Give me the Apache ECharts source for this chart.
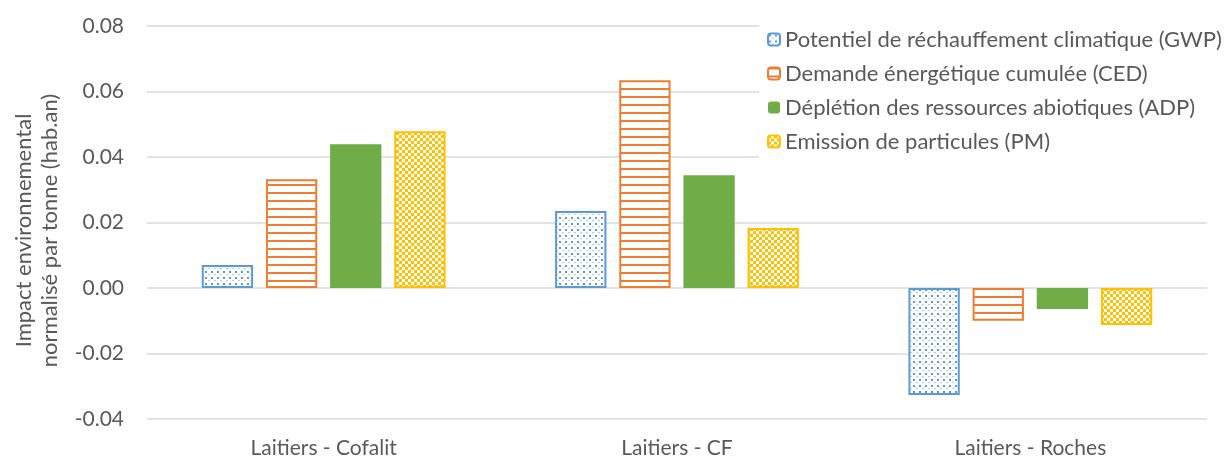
<!DOCTYPE html>
<html>
<head>
<meta charset="utf-8">
<script src="https://cdn.jsdelivr.net/npm/echarts@6/dist/echarts.min.js"></script>
<style>
  html, body { margin: 0; padding: 0; background: #fff; }
  #main { width: 1229px; height: 458px; }
</style>
</head>
<body>
<div id="main"></div>
<script>
const categories = ["Laitiers - Cofalit", "Laitiers - CF", "Laitiers - Roches"];
const seriesNames = [
  "Potentiel de réchauffement climatique (GWP)",
  "Demande énergétique cumulée (CED)",
  "Déplétion des ressources abiotiques (ADP)",
  "Emission de particules (PM)",
];
const gwp = [0.0070, 0.0235, -0.0327];
const ced = [0.0332, 0.0634, -0.0100];
const adp = [0.0439, 0.0344, -0.0064];
const pm = [0.0479, 0.0183, -0.0113];
const yTicks = [-0.04, -0.02, 0.0, 0.02, 0.04, 0.06, 0.08];

// petits motifs de remplissage (comme Excel)
function makeTile(w, h, draw) {
  const c = document.createElement("canvas");
  c.width = w;
  c.height = h;
  const ctx = c.getContext("2d");
  ctx.fillStyle = "#fff";
  ctx.fillRect(0, 0, w, h);
  draw(ctx);
  return c;
}
const dotTile = makeTile(6, 6, (ctx) => {
  ctx.fillStyle = "#5b9bd5";
  ctx.fillRect(1, 1, 2, 2);
  ctx.fillStyle = "rgba(91,155,213,0.5)";
  ctx.fillRect(4, 4, 2, 1);
});
const stripeTile = makeTile(4, 8, (ctx) => {
  ctx.fillStyle = "#ed7d31";
  ctx.fillRect(0, 0, 4, 2);
});
const checkTile = makeTile(6, 6, (ctx) => {
  ctx.fillStyle = "#ffc000";
  ctx.fillRect(0, 0, 3, 3);
  ctx.fillRect(3, 3, 3, 3);
});

var myChart = echarts.init(document.getElementById("main"));
var font = "Lato, 'Open Sans', sans-serif";
var option = {
  animation: false,
  textStyle: { fontFamily: font },
  grid: {
    left: 147,
    right: 22,
    top: 26,
    bottom: 39,
    outerBoundsMode: "none",
  },
  legend: {
    orient: "vertical",
    left: 759,
    top: 22,
    backgroundColor: "#fff",
    padding: [6, 12, 8, 8],
    itemWidth: 12,
    itemHeight: 12,
    itemGap: 11,
    textStyle: { color: "#595959", fontSize: 22, fontFamily: font, lineHeight: 23 },
    data: seriesNames,
  },
  xAxis: {
    type: "category",
    data: categories,
    axisLine: { show: false, onZero: false },
    axisTick: { show: false },
    axisLabel: { color: "#595959", fontSize: 21, margin: 19 },
  },
  yAxis: {
    type: "value",
    min: -0.04,
    max: 0.08,
    interval: 0.02,
    name: "Impact environnemental\nnormalisé par tonne (hab.an)",
    nameLocation: "middle",
    nameGap: 84,
    nameTextStyle: { color: "#595959", fontSize: 22, lineHeight: 26, padding: [0, 16, 0, 0] },
    axisLabel: {
      color: "#595959",
      fontSize: 21,
      margin: 23,
      formatter: (v) => {
        const t = yTicks.find((k) => Math.abs(k - v) < 1e-9);
        return (t === undefined ? v : t).toFixed(2);
      },
    },
    splitLine: { lineStyle: { color: "#d9d9d9", width: 1.5 } },
    axisLine: { show: false },
    axisTick: { show: false },
  },
  series: [
    {
      name: seriesNames[0],
      type: "bar",
      data: gwp,
      barGap: "25%",
      barCategoryGap: "31%",
      itemStyle: {
        color: { image: dotTile, repeat: "repeat" },
        borderColor: "#5b9bd5",
        borderWidth: 2,
      },
    },
    {
      name: seriesNames[1],
      type: "bar",
      data: ced,
      itemStyle: {
        color: { image: stripeTile, repeat: "repeat" },
        borderColor: "#ed7d31",
        borderWidth: 2,
      },
    },
    {
      name: seriesNames[2],
      type: "bar",
      data: adp,
      itemStyle: { color: "#70ad47" },
    },
    {
      name: seriesNames[3],
      type: "bar",
      data: pm,
      itemStyle: {
        color: { image: checkTile, repeat: "repeat" },
        borderColor: "#ffc000",
        borderWidth: 2,
      },
    },
  ],
};
myChart.setOption(option);
</script>
</body>
</html>
